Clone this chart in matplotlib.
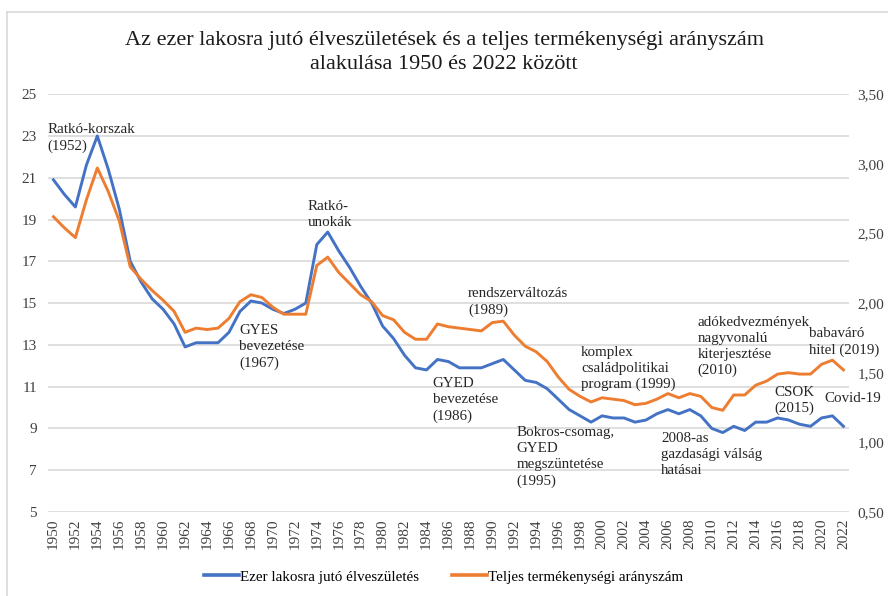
import numpy as np
import matplotlib; matplotlib.use("Agg"); import matplotlib.pyplot as plt
from matplotlib.lines import Line2D

plt.rcParams["font.family"] = ["Liberation Serif", "DejaVu Serif"]

years = list(range(1950, 2023))
birth_rate = [20.9, 20.2, 19.6, 21.6, 23.0, 21.4, 19.5, 17.0, 16.0, 15.2,
              14.7, 14.0, 12.9, 13.1, 13.1, 13.1, 13.6, 14.6, 15.1, 15.0,
              14.7, 14.5, 14.7, 15.0, 17.8, 18.4, 17.5, 16.7, 15.8, 15.0,
              13.9, 13.3, 12.5, 11.9, 11.8, 12.3, 12.2, 11.9, 11.9, 11.9,
              12.1, 12.3, 11.8, 11.3, 11.2, 10.9, 10.4, 9.9, 9.6, 9.3,
              9.6, 9.5, 9.5, 9.3, 9.4, 9.7, 9.9, 9.7, 9.9, 9.6,
              9.0, 8.8, 9.1, 8.9, 9.3, 9.3, 9.5, 9.4, 9.2, 9.1,
              9.5, 9.6, 9.1]
fertility = [2.62, 2.54, 2.47, 2.74, 2.97, 2.80, 2.59, 2.26, 2.17, 2.09,
             2.02, 1.94, 1.79, 1.82, 1.81, 1.82, 1.89, 2.01, 2.06, 2.04,
             1.97, 1.92, 1.92, 1.92, 2.27, 2.33, 2.22, 2.14, 2.06, 2.01,
             1.91, 1.88, 1.79, 1.74, 1.74, 1.85, 1.83, 1.82, 1.81, 1.80,
             1.86, 1.87, 1.77, 1.69, 1.65, 1.58, 1.47, 1.38, 1.33, 1.29,
             1.32, 1.31, 1.30, 1.27, 1.28, 1.31, 1.35, 1.32, 1.35, 1.33,
             1.25, 1.23, 1.34, 1.34, 1.41, 1.44, 1.49, 1.50, 1.49, 1.49,
             1.56, 1.59, 1.52]

# (text, year, left-axis value of the text's top-left corner)
notes = [
    ("Ratkó-korszak\n(1952)", 1949.45, 23.6),
    ("Ratkó-\nunokák", 1973.15, 19.95),
    ("GYES\nbevezetése\n(1967)", 1966.95, 14.0),
    ("GYED\nbevezetése\n(1986)", 1984.55, 11.45),
    ("rendszerváltozás\n(1989)", 1987.8, 15.75),
    ("Bokros-csomag,\nGYED\nmegszüntetése\n(1995)", 1992.2, 9.1),
    ("komplex\ncsaládpolitikai\nprogram (1999)", 1998.1, 12.95),
    ("2008-as\ngazdasági válság\nhatásai", 2005.4, 8.85),
    ("adókedvezmények\nnagyvonalú\nkiterjesztése\n(2010)", 2008.7, 14.4),
    ("babaváró\nhitel (2019)", 2018.85, 13.85),
    ("CSOK\n(2015)", 2015.7, 11.05),
    ("Covid-19", 2020.3, 10.75),
]

BLUE, ORANGE, GRID = "#4472C4", "#ED7D31", "#D9D9D9"

fig = plt.figure(figsize=(8.88, 5.96), dpi=100)
ax = fig.add_axes([0.054, 0.141, 0.902, 0.701])
ax2 = ax.twinx()

ax.plot(years, birth_rate, color=BLUE, lw=2.1, solid_joinstyle="round", zorder=3)
ax2.plot(years, fertility, color=ORANGE, lw=2.1, solid_joinstyle="round", zorder=3)

ax.set_xlim(1949.5, 2022.5)
ax.set_ylim(5, 25)
ax2.set_ylim(0.5, 3.5)
ax.set_yticks(np.arange(5, 26, 2))
ax2.set_yticks(np.arange(0.5, 3.51, 0.5))
ax2.set_yticklabels([f"{v:.2f}".replace(".", ",") for v in np.arange(0.5, 3.51, 0.5)])
ax.set_xticks(years[::2])
ax.set_xticklabels([str(y) for y in years[::2]], rotation=90)
ax.grid(axis="y", color=GRID, lw=1.2)
ax.set_axisbelow(True)
for a in (ax, ax2):
    for s in a.spines.values():
        s.set_visible(False)
ax.tick_params(axis="y", length=0, pad=8, labelsize=11, colors="#404040")
ax.tick_params(axis="x", length=0, pad=5, labelsize=11, colors="#404040")
ax2.tick_params(axis="y", length=0, pad=6, labelsize=11, colors="#404040")

for txt, x, y in notes:
    ax.text(x, y, txt, ha="left", va="top", fontsize=10.8, linespacing=1.3,
            color="#262626", zorder=4)

fig.text(0.5, 0.912, "Az ezer lakosra jutó élveszületések és a teljes termékenységi arányszám\n"
         "alakulása 1950 és 2022 között", ha="center", va="center", fontsize=16,
         linespacing=1.4, color="#1a1a1a")

handles = [Line2D([], [], color=BLUE, lw=2.6), Line2D([], [], color=ORANGE, lw=2.6)]
fig.legend(handles, ["Ezer lakosra jutó élveszületés", "Teljes termékenységi arányszám"],
           loc="center", bbox_to_anchor=(0.5, 0.032), ncol=2, frameon=False, fontsize=10.8,
           handlelength=2.3, handletextpad=0.1, columnspacing=2.2)

# chart-area border (left and top edges visible)
fig.add_artist(Line2D([7 / 888, 7 / 888], [0, 1 - 12 / 596], color="#D9D9D9", lw=1.2))
fig.add_artist(Line2D([7 / 888, 1], [1 - 12 / 596, 1 - 12 / 596], color="#D9D9D9", lw=1.2))

fig.savefig("out.png", dpi=100)
